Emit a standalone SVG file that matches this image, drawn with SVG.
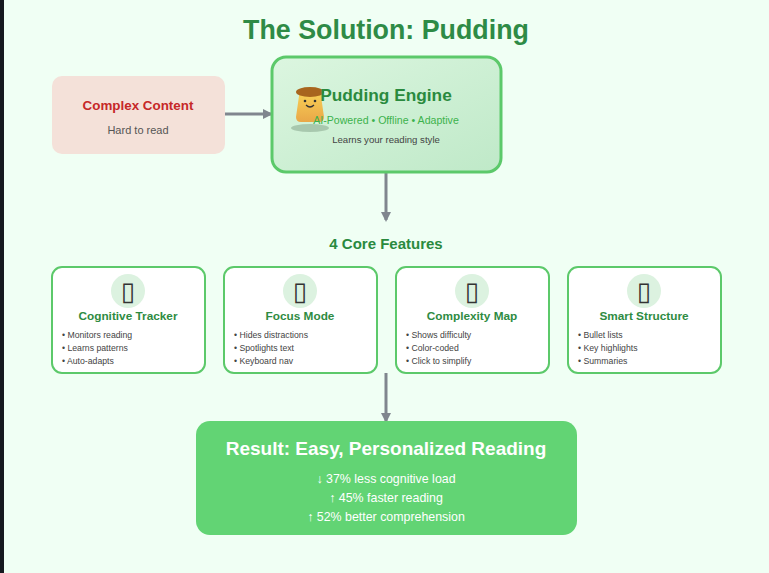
<svg xmlns="http://www.w3.org/2000/svg" width="769" height="573" viewBox="0 0 769 573">
<defs>
<linearGradient id="engGrad" x1="0" y1="0" x2="1" y2="1">
<stop offset="0" stop-color="#dcf6e0"/>
<stop offset="1" stop-color="#bfe9c8"/>
</linearGradient>
<linearGradient id="pudGrad" x1="0" y1="0" x2="0" y2="1">
<stop offset="0" stop-color="#f7cf55"/>
<stop offset="1" stop-color="#e9a748"/>
</linearGradient>
<marker id="arr" markerWidth="10" markerHeight="10" refX="8" refY="5" orient="auto" markerUnits="userSpaceOnUse">
<path d="M0,0 L10,5 L0,10 Z" fill="#80868e"/>
</marker>
<style>
text{font-family:"Liberation Sans",Arial,sans-serif}
.card{fill:#ffffff;stroke:#5cc96a;stroke-width:2}
.icoc{fill:#dcf2e0}
.ico{font-family:"DejaVu Sans",sans-serif;font-size:26px;fill:#333;text-anchor:middle}
.ct{font-size:11.8px;font-weight:bold;fill:#2e8b42;text-anchor:middle}
.bl{font-size:8.7px;fill:#444}
.conn{stroke:#80868e;stroke-width:3;fill:none}
.rs{font-size:12.4px;fill:#ffffff;text-anchor:middle}
</style>
</defs>
<rect x="0" y="0" width="769" height="573" fill="#f0fff4"/>
<rect x="0" y="0" width="4" height="573" fill="#15191f"/>
<text x="386" y="39" font-size="26.8" font-weight="bold" fill="#2e8b46" text-anchor="middle">The Solution: Pudding</text>

<g id="connectors">
<line class="conn" x1="225" y1="114" x2="271" y2="114" marker-end="url(#arr)"/>
<line class="conn" x1="386" y1="173" x2="386" y2="220" marker-end="url(#arr)"/>
<line class="conn" x1="386" y1="373" x2="386" y2="421" marker-end="url(#arr)"/>
</g>

<g id="complex">
<rect x="52" y="76" width="173" height="78" rx="10" fill="#f4e1d9"/>
<text x="138" y="110" font-size="13.4" font-weight="bold" fill="#c62828" text-anchor="middle">Complex Content</text>
<text x="138" y="134" font-size="11" fill="#555" text-anchor="middle">Hard to read</text>
</g>

<g id="engine">
<rect x="272" y="57" width="229" height="115" rx="14" fill="url(#engGrad)" stroke="#5cc96a" stroke-width="3"/>
<ellipse cx="310" cy="128" rx="19" ry="4" fill="#a8c8ae"/>
<path d="M299,96 Q299,93 303,93 L317,93 Q321,93 321,96 L324,117 Q324,122 319,122 L301,122 Q296,122 296,117 Z" fill="url(#pudGrad)"/>
<ellipse cx="310" cy="92" rx="14" ry="5" fill="#a8651e"/>
<circle cx="305" cy="101" r="1.3" fill="#333"/>
<circle cx="315" cy="101" r="1.3" fill="#333"/>
<path d="M306,105 Q310,109 314,105" stroke="#333" stroke-width="1.2" fill="none"/>
<text x="386" y="101" font-size="17.3" font-weight="bold" fill="#2a8a3e" text-anchor="middle">Pudding Engine</text>
<text x="386" y="124" font-size="10.6" fill="#3cb24c" text-anchor="middle">AI-Powered • Offline • Adaptive</text>
<text x="386" y="143" font-size="9.6" fill="#444" text-anchor="middle">Learns your reading style</text>
</g>

<text x="386" y="249" font-size="15" font-weight="bold" fill="#2a8a3e" text-anchor="middle">4 Core Features</text>

<g id="f1">
<rect class="card" x="52" y="267" width="153" height="106" rx="10"/>
<circle class="icoc" cx="128" cy="291" r="17"/>
<text class="ico" x="128" y="300">▯</text>
<text class="ct" x="128" y="320">Cognitive Tracker</text>
<text class="bl" x="62" y="337.5">• Monitors reading</text>
<text class="bl" x="62" y="350.5">• Learns patterns</text>
<text class="bl" x="62" y="363.5">• Auto-adapts</text>
</g>
<g id="f2">
<rect class="card" x="224" y="267" width="153" height="106" rx="10"/>
<circle class="icoc" cx="300" cy="291" r="17"/>
<text class="ico" x="300" y="300">▯</text>
<text class="ct" x="300" y="320">Focus Mode</text>
<text class="bl" x="234" y="337.5">• Hides distractions</text>
<text class="bl" x="234" y="350.5">• Spotlights text</text>
<text class="bl" x="234" y="363.5">• Keyboard nav</text>
</g>
<g id="f3">
<rect class="card" x="396" y="267" width="153" height="106" rx="10"/>
<circle class="icoc" cx="472" cy="291" r="17"/>
<text class="ico" x="472" y="300">▯</text>
<text class="ct" x="472" y="320">Complexity Map</text>
<text class="bl" x="406" y="337.5">• Shows difficulty</text>
<text class="bl" x="406" y="350.5">• Color-coded</text>
<text class="bl" x="406" y="363.5">• Click to simplify</text>
</g>
<g id="f4">
<rect class="card" x="568" y="267" width="153" height="106" rx="10"/>
<circle class="icoc" cx="644" cy="291" r="17"/>
<text class="ico" x="644" y="300">▯</text>
<text class="ct" x="644" y="320">Smart Structure</text>
<text class="bl" x="578" y="337.5">• Bullet lists</text>
<text class="bl" x="578" y="350.5">• Key highlights</text>
<text class="bl" x="578" y="363.5">• Summaries</text>
</g>

<g id="result">
<rect x="196" y="421" width="381" height="114" rx="14" fill="#62d474"/>
<text x="386" y="455" font-size="19" font-weight="bold" fill="#ffffff" text-anchor="middle">Result: Easy, Personalized Reading</text>
<text class="rs" x="386" y="483">↓ 37% less cognitive load</text>
<text class="rs" x="386" y="502">↑ 45% faster reading</text>
<text class="rs" x="386" y="521">↑ 52% better comprehension</text>
</g>
</svg>
